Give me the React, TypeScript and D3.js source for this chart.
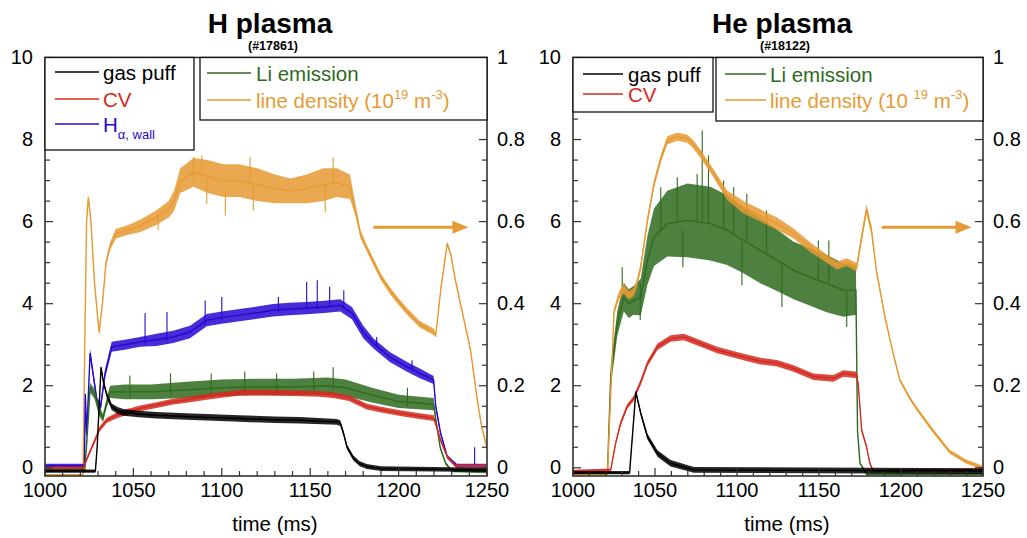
import * as d3 from 'd3';

// ---------- data ----------
// each trace point: [time ms, value, half-width of the noise band]
type P = [number, number, number];
// spikes: [time ms, low, high]
type S = [number, number, number];

const TIME_TICKS = [1000, 1050, 1100, 1150, 1200, 1250];
const LEFT_TICKS = [0, 2, 4, 6, 8, 10];
const RIGHT_TICKS = [0, 0.2, 0.4, 0.6, 0.8, 1];
const RIGHT_LABELS = ['0', '0.2', '0.4', '0.6', '0.8', '1'];

// H plasma (#17861)
const hGasPuff: P[] = [
  [1000, -0.08, 0.04], [1028.5, -0.08, 0.04], [1029.5, 0.5, 0.05], [1031.7, 2.45, 0.05], [1033, 2.1, 0.06],
  [1035, 1.77, 0.07], [1037.7, 1.49, 0.08], [1041, 1.4, 0.08], [1044.3, 1.35, 0.08], [1053, 1.31, 0.08],
  [1063, 1.28, 0.08], [1080, 1.25, 0.08], [1091.5, 1.23, 0.08], [1110, 1.2, 0.08], [1130, 1.17, 0.08],
  [1144.4, 1.16, 0.08], [1165, 1.12, 0.07], [1167, 1.09, 0.07], [1168.8, 0.85, 0.06], [1170.8, 0.51, 0.06],
  [1174.4, 0.24, 0.06], [1178, 0.1, 0.06], [1182, 0.03, 0.06], [1190, -0.02, 0.06], [1250, -0.05, 0.05],
];
const hCV: P[] = [
  [1000, 0.0, 0.03], [1021.7, 0.0, 0.03], [1025, 0.35, 0.05], [1028.3, 0.68, 0.06], [1031, 0.95, 0.06],
  [1035, 1.16, 0.06], [1040.6, 1.28, 0.07], [1047, 1.37, 0.07], [1053.8, 1.45, 0.07], [1063, 1.53, 0.07],
  [1072.5, 1.61, 0.07], [1082, 1.67, 0.07], [1091.5, 1.73, 0.07], [1100, 1.78, 0.07], [1110.4, 1.83, 0.07],
  [1125, 1.83, 0.07], [1140, 1.82, 0.07], [1155, 1.8, 0.07], [1163, 1.77, 0.07], [1172, 1.7, 0.07],
  [1182, 1.49, 0.07], [1190, 1.42, 0.07], [1201, 1.33, 0.07], [1210, 1.27, 0.07], [1220, 1.21, 0.07],
  [1221.5, 1.0, 0.05], [1223.7, 0.68, 0.05], [1227.5, 0.27, 0.04], [1232, 0.05, 0.03], [1250, 0.05, 0.03],
];
const hHalpha: P[] = [
  [1000, 0.05, 0.05], [1022.3, 0.05, 0.05], [1022.8, 1.8, 0.08], [1023.6, 0.8, 0.1], [1025.5, 2.8, 0.1],
  [1027.5, 2.2, 0.1], [1029.5, 1.6, 0.1], [1031.5, 1.5, 0.1], [1034, 2.3, 0.1], [1037.7, 2.95, 0.12],
  [1045, 3.0, 0.12], [1053.8, 3.07, 0.12], [1063, 3.12, 0.15], [1072.5, 3.19, 0.15], [1082, 3.31, 0.15],
  [1091.5, 3.6, 0.15], [1100, 3.66, 0.15], [1110, 3.72, 0.15], [1120, 3.78, 0.15], [1129, 3.84, 0.15],
  [1138, 3.87, 0.15], [1148, 3.89, 0.15], [1158, 3.92, 0.15], [1167, 3.96, 0.15], [1173.6, 3.77, 0.15],
  [1180, 3.31, 0.15], [1185.8, 3.03, 0.12], [1195, 2.7, 0.12], [1204.8, 2.46, 0.12], [1212, 2.3, 0.12],
  [1219.8, 2.14, 0.1], [1221, 1.5, 0.08], [1223.7, 0.85, 0.05], [1227.5, 0.27, 0.05], [1233, 0.05, 0.05],
  [1250, 0.05, 0.05],
];
const hHalphaSpikes: S[] = [
  [1056.6, 3.0, 3.77], [1069, 3.1, 3.8], [1090.6, 3.5, 4.08], [1100, 3.6, 4.16], [1132, 3.8, 4.16],
  [1148, 3.85, 4.53], [1154, 3.9, 4.57], [1161, 3.9, 4.41], [1169, 3.9, 4.33], [1187.6, 2.95, 3.19],
  [1207.6, 2.4, 2.62], [1243, 0.05, 0.5],
];
const hLi: P[] = [
  [1000, -0.05, 0.04], [1022.5, -0.05, 0.04], [1023.6, 0.6, 0.1], [1025.5, 1.95, 0.12], [1028, 1.8, 0.12],
  [1030.5, 1.4, 0.12], [1032.8, 1.21, 0.1], [1035, 1.6, 0.12], [1036.8, 1.85, 0.15], [1045, 1.85, 0.18],
  [1060, 1.85, 0.18], [1080, 1.9, 0.2], [1100, 1.95, 0.2], [1120, 1.97, 0.2], [1140, 1.97, 0.2],
  [1160, 2.0, 0.2], [1170, 1.95, 0.2], [1185, 1.77, 0.18], [1200, 1.62, 0.16], [1219.8, 1.55, 0.15],
  [1221, 1.2, 0.05], [1223.5, 0.5, 0.04], [1226.5, 0.12, 0.04], [1230, -0.08, 0.03], [1250, -0.1, 0.03],
];
const hLiSpikes: S[] = [
  [1048, 1.7, 2.25], [1071, 1.75, 2.3], [1094, 1.8, 2.3], [1113, 1.85, 2.35], [1131, 1.8, 2.3],
  [1152, 1.85, 2.35], [1163, 1.9, 2.45], [1205, 1.5, 1.95],
];
const hDensity: P[] = [
  [1000, -0.017, 0.002], [1021.5, -0.017, 0.002], [1022.5, 0.3, 0.005], [1023.5, 0.6, 0.005], [1024.5, 0.66, 0.005],
  [1026, 0.6, 0.005], [1028, 0.45, 0.005], [1030.6, 0.33, 0.005], [1032.5, 0.4, 0.005], [1034.5, 0.5, 0.008],
  [1036.8, 0.54, 0.01], [1040, 0.57, 0.012], [1047, 0.58, 0.012], [1054, 0.59, 0.015], [1063, 0.61, 0.018],
  [1070, 0.63, 0.02], [1073, 0.65, 0.025], [1076.5, 0.7, 0.03], [1084, 0.72, 0.035], [1092, 0.71, 0.04],
  [1101, 0.7, 0.04], [1110, 0.7, 0.04], [1120, 0.69, 0.04], [1130, 0.68, 0.035], [1139, 0.675, 0.03],
  [1148, 0.68, 0.035], [1157.5, 0.69, 0.04], [1165, 0.695, 0.035], [1172.5, 0.685, 0.03], [1175.5, 0.63, 0.015],
  [1178.4, 0.57, 0.01], [1182, 0.535, 0.008], [1186, 0.5, 0.008], [1190, 0.465, 0.008], [1195.4, 0.43, 0.008],
  [1200, 0.405, 0.008], [1205, 0.38, 0.008], [1212, 0.35, 0.008], [1220, 0.331, 0.008], [1221, 0.323, 0.005],
  [1224, 0.44, 0.005], [1227.5, 0.547, 0.005], [1229.5, 0.52, 0.005], [1232, 0.46, 0.005], [1236, 0.38, 0.005],
  [1240.7, 0.287, 0.005], [1244.5, 0.165, 0.005], [1247, 0.1, 0.005], [1250, 0.048, 0.005],
];
const hDensitySpikes: S[] = [
  [1064, 0.579, 0.62], [1084, 0.7, 0.757], [1088.7, 0.7, 0.761], [1091.5, 0.644, 0.7], [1102, 0.615, 0.68],
  [1116, 0.69, 0.757], [1117.8, 0.627, 0.69], [1158.5, 0.623, 0.69], [1163, 0.69, 0.757],
];

// He plasma (#18122)
const heGasPuff: P[] = [
  [1000, -0.12, 0.04], [1034.5, -0.12, 0.04], [1038.3, 1.85, 0.05], [1041.3, 1.33, 0.06], [1045.4, 0.76, 0.07],
  [1051.5, 0.35, 0.08], [1059.5, 0.11, 0.08], [1073.7, -0.05, 0.07], [1250, -0.08, 0.07],
];
const heCV: P[] = [
  [1000, -0.08, 0.03], [1023, -0.05, 0.03], [1026, 0.6, 0.05], [1029, 1.08, 0.06], [1033, 1.49, 0.06],
  [1037, 1.69, 0.06], [1041.3, 2.09, 0.07], [1045.4, 2.54, 0.07], [1051.5, 2.95, 0.08], [1059.5, 3.15, 0.08],
  [1067.6, 3.19, 0.08], [1077.8, 3.03, 0.08], [1087.9, 2.87, 0.08], [1104, 2.7, 0.08], [1114.2, 2.6, 0.08],
  [1124.4, 2.55, 0.08], [1134.5, 2.42, 0.08], [1146.6, 2.22, 0.08], [1158.8, 2.18, 0.08], [1164.8, 2.3, 0.08],
  [1173, 2.26, 0.08], [1174, 2.0, 0.06], [1176, 0.92, 0.05], [1179, 0.51, 0.04], [1181, 0.11, 0.03],
  [1183, -0.07, 0.03], [1250, -0.05, 0.03],
];
const heLi: P[] = [
  [1000, -0.1, 0.03], [1021, -0.1, 0.03], [1023, 2.22, 0.25], [1027, 3.52, 0.3], [1031, 4.16, 0.35],
  [1034, 4.0, 0.35], [1037, 4.08, 0.35], [1041.3, 4.16, 0.45], [1045.4, 5.06, 0.6], [1049.4, 5.62, 0.7],
  [1057.5, 5.95, 0.8], [1069.7, 6.03, 0.9], [1083.8, 5.95, 0.9], [1094, 5.79, 0.85], [1104, 5.54, 0.8],
  [1114.2, 5.3, 0.8], [1124.4, 5.06, 0.75], [1134.5, 4.81, 0.7], [1144.6, 4.65, 0.7], [1154.7, 4.49, 0.7],
  [1164.8, 4.33, 0.65], [1172.5, 4.33, 0.6], [1173.5, 0.9, 0.05], [1175, 0.11, 0.03], [1179, -0.15, 0.03],
  [1250, -0.15, 0.03],
];
const heLiSpikes: S[] = [
  [1030, 4.2, 4.89], [1041, 3.6, 4.5], [1053.5, 5.8, 6.84], [1063.6, 6.0, 7.08], [1067, 4.89, 5.8],
  [1075.7, 6.0, 7.16], [1078.8, 6.0, 8.22], [1082.6, 6.0, 7.61], [1091.8, 5.8, 7.0], [1098, 5.7, 6.84],
  [1103, 4.45, 5.5], [1106, 5.5, 6.68], [1118, 5.2, 6.27], [1127.4, 3.92, 5.0], [1149.6, 4.6, 5.54],
  [1156, 4.5, 5.54], [1166.9, 3.43, 4.3],
];
const heDensity: P[] = [
  [1000, -0.015, 0.003], [1021, -0.015, 0.003], [1023, 0.18, 0.005], [1025, 0.38, 0.008], [1028, 0.42, 0.01],
  [1031, 0.437, 0.012], [1034, 0.42, 0.01], [1037, 0.428, 0.01], [1039, 0.45, 0.01], [1041.3, 0.489, 0.01],
  [1045.4, 0.603, 0.01], [1049.4, 0.692, 0.01], [1053.5, 0.753, 0.01], [1057.5, 0.798, 0.01], [1063.6, 0.807, 0.01],
  [1069.7, 0.802, 0.01], [1073, 0.79, 0.01], [1077.8, 0.765, 0.01], [1085.8, 0.717, 0.01], [1094, 0.664, 0.012],
  [1104, 0.635, 0.015], [1114.2, 0.615, 0.015], [1124.4, 0.595, 0.015], [1134.5, 0.571, 0.012], [1144.6, 0.538, 0.012],
  [1154.7, 0.51, 0.01], [1160.8, 0.493, 0.01], [1166.9, 0.501, 0.01], [1173, 0.489, 0.01], [1176, 0.562, 0.012],
  [1179, 0.63, 0.012], [1182, 0.579, 0.012], [1185, 0.481, 0.008], [1190.2, 0.368, 0.006], [1195.2, 0.279, 0.005],
  [1199.3, 0.214, 0.005], [1205.3, 0.17, 0.005], [1209.4, 0.145, 0.005], [1219.5, 0.09, 0.005], [1229.7, 0.039, 0.005],
  [1239.8, 0.015, 0.005], [1250, 0.0, 0.005],
];

// ---------- styles ----------
const C = {
  gas: '#000000',
  cv: '#d42a1f',
  ha: '#2608d0',
  li: '#2f6a1e',
  dens: '#e69a33',
  axis: '#333333',
};
const FONT = '"Liberation Sans", Arial, sans-serif';

const Y_TOP = 57.5;
const Y_BOT = 476;

type Trace = { data: P[]; color: string; right?: boolean; spikes?: S[] };

function Band({ tr, x, yL, yR }: { tr: Trace; x: d3.ScaleLinear<number, number>; yL: d3.ScaleLinear<number, number>; yR: d3.ScaleLinear<number, number> }) {
  const y = tr.right ? yR : yL;
  const area = d3.area<P>().x(d => x(d[0])).y0(d => y(d[1] - d[2])).y1(d => y(d[1] + d[2]));
  const line = d3.line<P>().x(d => x(d[0])).y(d => y(d[1]));
  return (
    <g>
      <path d={area(tr.data) || ''} fill={tr.color} opacity={0.85} />
      <path d={line(tr.data) || ''} fill="none" stroke={tr.color} strokeWidth={1.4} />
      {(tr.spikes || []).map((s, i) => (
        <line key={i} x1={x(s[0])} x2={x(s[0])} y1={y(s[1])} y2={y(s[2])} stroke={tr.color} strokeWidth={1.1} />
      ))}
    </g>
  );
}

type LegendItem = { label: any; color: string; y: number };
type Box = { x0: number; x1: number; y1: number; lineX0: number; lineX1: number; textX: number; items: LegendItem[] };

function Panel({ id, x0, x1, title, shot, traces, boxes, arrow }: {
  id: string; x0: number; x1: number; title: string; shot: string; traces: Trace[]; boxes: Box[]; arrow: [number, number, number];
}) {
  const x = d3.scaleLinear().domain([1000, 1250]).range([x0, x1]);
  const yL = d3.scaleLinear().domain([-0.2, 10]).range([Y_BOT, Y_TOP]);
  const yR = d3.scaleLinear().domain([-0.02, 1]).range([Y_BOT, Y_TOP]);
  const cx = (x0 + x1) / 2;
  const minorT = d3.range(1000, 1251, 10);
  const minorL = d3.range(0, 10.01, 0.5);
  const minorR = d3.range(0, 1.001, 0.05);
  const [a0, a1, av] = arrow;

  return (
    <g fontFamily={FONT}>
      <text x={cx + 4} y={33} textAnchor="middle" fontSize={28} fontWeight="bold">{title}</text>
      <text x={cx + 7} y={49.5} textAnchor="middle" fontSize={12.5} fontWeight="bold">{shot}</text>

      <clipPath id={`clip-${id}`}>
        <rect x={x0} y={Y_TOP} width={x1 - x0} height={Y_BOT - Y_TOP} />
      </clipPath>
      <g clipPath={`url(#clip-${id})`}>
        {traces.map((tr, i) => <Band key={i} tr={tr} x={x} yL={yL} yR={yR} />)}
      </g>

      {/* arrow pointing at right axis */}
      <line x1={x(a0)} x2={x(a1) - 14} y1={yR(av)} y2={yR(av)} stroke={C.dens} strokeWidth={3} />
      <path d={`M${x(a1) - 16},${yR(av) - 6.5}L${x(a1)},${yR(av)}L${x(a1) - 16},${yR(av) + 6.5}Z`} fill={C.dens} />

      {/* frame */}
      <rect x={x0} y={Y_TOP} width={x1 - x0} height={Y_BOT - Y_TOP} fill="none" stroke={C.axis} strokeWidth={1.6} />

      {/* ticks */}
      {minorT.map(t => (
        <line key={`t${t}`} x1={x(t)} x2={x(t)} y1={Y_BOT} y2={Y_BOT - (t % 50 === 0 ? 8 : 5)} stroke={C.axis} strokeWidth={1.2} />
      ))}
      {minorL.map(v => (
        <line key={`l${v}`} x1={x0} x2={x0 + (v % 2 === 0 ? 8 : 5)} y1={yL(v)} y2={yL(v)} stroke={C.axis} strokeWidth={1.2} />
      ))}
      {minorR.map((v, i) => (
        <line key={`r${i}`} x1={x1} x2={x1 - (i % 4 === 0 ? 8 : 5)} y1={yR(v)} y2={yR(v)} stroke={C.axis} strokeWidth={1.2} />
      ))}

      {TIME_TICKS.map(t => (
        <text key={`tl${t}`} x={x(t)} y={497} textAnchor="middle" fontSize={20}>{t}</text>
      ))}
      {LEFT_TICKS.map(v => (
        <text key={`ll${v}`} x={x0 - 12} y={yL(v) + 6} textAnchor="end" fontSize={20}>{v}</text>
      ))}
      {RIGHT_TICKS.map((v, i) => (
        <text key={`rl${v}`} x={x1 + 10} y={yR(v) + 6} textAnchor="start" fontSize={20}>{RIGHT_LABELS[i]}</text>
      ))}
      <text x={cx + 9} y={531} textAnchor="middle" fontSize={20.5}>time (ms)</text>

      {/* legends */}
      {boxes.map((b, i) => (
        <g key={`b${i}`}>
          <rect x={b.x0} y={Y_TOP} width={b.x1 - b.x0} height={b.y1 - Y_TOP} fill="white" stroke="#111" strokeWidth={1.3} />
          {b.items.map((it, j) => (
            <g key={j}>
              <line x1={b.lineX0} x2={b.lineX1} y1={it.y} y2={it.y} stroke={it.color} strokeWidth={1.3} />
              <text x={b.textX} y={it.y + 8} fontSize={20.5} fill={it.color}>{it.label}</text>
            </g>
          ))}
        </g>
      ))}
    </g>
  );
}

const densLabel = (gap: string) => (
  <>
    line density (10{gap}<tspan fontSize={13} dy={-9}>19</tspan>
    <tspan dy={9}> m</tspan><tspan fontSize={13} dy={-9}>-3</tspan><tspan dy={9}>)</tspan>
  </>
);

export default function App() {
  return (
    <svg width={1027} height={538} style={{ position: 'absolute', left: 0, top: 0, background: 'white' }}>
      <Panel
        id="h"
        x0={45}
        x1={487}
        title="H plasma"
        shot="(#17861)"
        arrow={[1185.7, 1239.5, 0.586]}
        traces={[
          { data: hDensity, color: C.dens, right: true, spikes: hDensitySpikes },
          { data: hHalpha, color: C.ha, spikes: hHalphaSpikes },
          { data: hLi, color: C.li, spikes: hLiSpikes },
          { data: hCV, color: C.cv },
          { data: hGasPuff, color: C.gas },
        ]}
        boxes={[
          {
            x0: 45, x1: 194, y1: 150, lineX0: 55, lineX1: 99, textX: 103,
            items: [
              { label: 'gas puff', color: C.gas, y: 72 },
              { label: 'CV', color: C.cv, y: 99 },
              {
                label: <>H<tspan fontSize={13} dy={7}>α, wall</tspan></>,
                color: C.ha, y: 124,
              },
            ],
          },
          {
            x0: 200, x1: 487, y1: 120, lineX0: 207, lineX1: 251, textX: 256,
            items: [
              { label: 'Li emission', color: C.li, y: 73 },
              { label: densLabel(''), color: C.dens, y: 100 },
            ],
          },
        ]}
      />
      <Panel
        id="he"
        x0={573}
        x1={983}
        title="He plasma"
        shot="(#18122)"
        arrow={[1188.3, 1243, 0.586]}
        traces={[
          { data: heLi, color: C.li, spikes: heLiSpikes },
          { data: heDensity, color: C.dens, right: true },
          { data: heCV, color: C.cv },
          { data: heGasPuff, color: C.gas },
        ]}
        boxes={[
          {
            x0: 573, x1: 713, y1: 112, lineX0: 583, lineX1: 623, textX: 628,
            items: [
              { label: 'gas puff', color: C.gas, y: 74 },
              { label: 'CV', color: C.cv, y: 94 },
            ],
          },
          {
            x0: 716, x1: 983, y1: 121, lineX0: 725, lineX1: 766, textX: 770,
            items: [
              { label: 'Li emission', color: C.li, y: 74 },
              { label: densLabel(' '), color: C.dens, y: 100 },
            ],
          },
        ]}
      />
    </svg>
  );
}
